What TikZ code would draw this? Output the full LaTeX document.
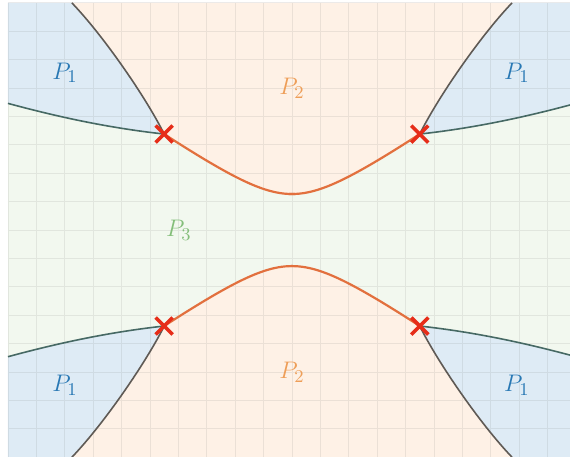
\documentclass[tikz,border=0pt]{standalone}
\definecolor{fondbleu}{RGB}{222,235,245}
\definecolor{fondorange}{RGB}{254,241,230}
\definecolor{fondvert}{RGB}{242,248,239}
\definecolor{textebleu}{RGB}{40,120,180}
\definecolor{texteorange}{RGB}{238,158,88}
\definecolor{textevert}{RGB}{132,190,122}
\definecolor{traitorange}{RGB}{226,112,62}
\definecolor{traitgris}{RGB}{95,90,85}
\definecolor{traitvert}{RGB}{70,105,100}
\definecolor{croix}{RGB}{230,45,25}
\begin{document}
\begin{tikzpicture}[x=0.5cm,y=0.5cm]
\useasboundingbox (-10.28,-7.99) rectangle (9.79,8.1);
\newcommand{\Hyp}{-- plot[domain=-4.5:0.1,samples=40] (\x,{sqrt(1.61+0.484*\x*\x)})}%hyperbole P2/P3
\newcommand{\Bord}{.. controls (-6.6,6.8) and (-5.1,4.6) .. (-4.5,3.38)}%frontiere P1/P2
\newcommand{\Bas}{.. controls (-6.5,3.6) and (-8.3,4.0) .. (-10,4.46)}%frontiere P1/P3
\fill[color=fondvert] (-10,-8) rectangle (10,8);%fond P3
\foreach \sx/\sy in {1/1,-1/1,1/-1,-1/-1}{
\begin{scope}[xscale=\sx,yscale=\sy]
\fill[color=fondorange] (0.1,8) -- (-7.75,8) \Bord \Hyp -- cycle;%zone P2
\fill[color=fondbleu] (-10,8) -- (-7.75,8) \Bord \Bas -- cycle;%zone P1
\end{scope}
}
\draw[gray,opacity=0.15,line width=0.4pt,step=0.5cm] (-10,-8) grid (10,8);%grille
\foreach \sx/\sy in {1/1,-1/1,1/-1,-1/-1}{
\begin{scope}[xscale=\sx,yscale=\sy]
\draw[color=traitgris,line width=0.8pt] (-7.75,8) \Bord;
\draw[color=traitvert,line width=0.8pt] (-4.5,3.38) \Bas;
\draw[color=traitorange,line width=1.1pt] (-4.5,3.38) \Hyp;
\draw[color=croix,line width=1.8pt] (-4.8,3.08) -- (-4.2,3.68) (-4.8,3.68) -- (-4.2,3.08);%point triple
\end{scope}
}
\node[color=textebleu,font=\fontsize{13}{15}\selectfont] (p1hg) at (-7.99,5.53){$P_1$};
\node[color=textebleu,font=\fontsize{13}{15}\selectfont] (p1hd) at (7.92,5.53){$P_1$};
\node[color=textebleu,font=\fontsize{13}{15}\selectfont] (p1bg) at (-7.99,-5.46){$P_1$};
\node[color=textebleu,font=\fontsize{13}{15}\selectfont] (p1bd) at (7.92,-5.46){$P_1$};
\node[color=texteorange,font=\fontsize{13}{15}\selectfont] (p2h) at (0,5.0){$P_2$};
\node[color=texteorange,font=\fontsize{13}{15}\selectfont] (p2b) at (0,-5.0){$P_2$};
\node[color=textevert,font=\fontsize{13}{15}\selectfont] (p3) at (-3.98,0){$P_3$};
\end{tikzpicture}
\end{document}
